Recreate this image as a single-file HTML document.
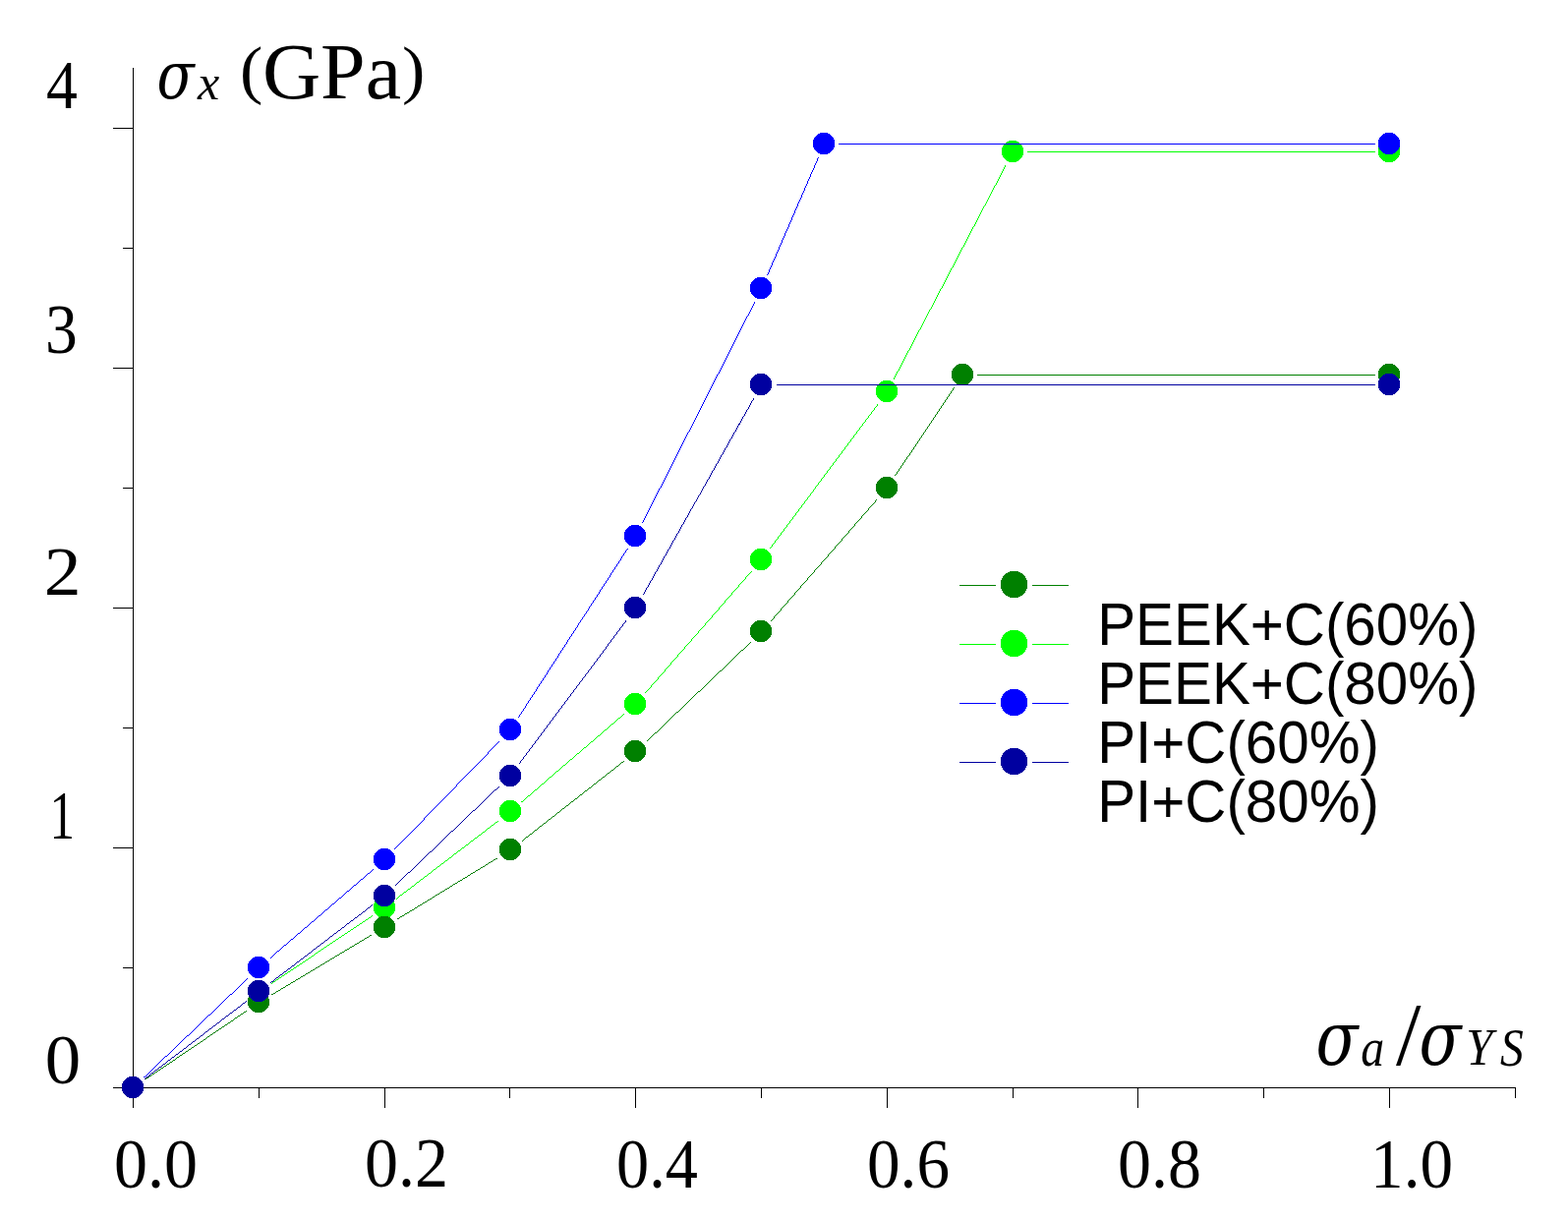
<!DOCTYPE html><html><head><meta charset="utf-8"><title>chart</title><style>html,body{margin:0;padding:0;background:#fff;overflow:hidden;}svg{display:block}.serif{font-family:"Liberation Serif",serif}.sans{font-family:"Liberation Sans",sans-serif}</style></head><body>
<svg width="1595" height="1242" viewBox="0 0 1595 1242">
<rect width="1595" height="1242" fill="#fff"/>
<path d="M135.5 69V1127 M115 1106.5H1542 M115 1106.5H135 M115 862.5H135 M115 618.5H135 M115 374.5H135 M115 130.5H135 M125 984.5H135 M125 740.5H135 M125 496.5H135 M125 252.5H135 M135.5 1106V1127 M263.5 1106V1117 M391.5 1106V1127 M518.5 1106V1117 M646.5 1106V1127 M774.5 1106V1117 M902.5 1106V1127 M1030.5 1106V1117 M1157.5 1106V1127 M1285.5 1106V1117 M1413.5 1106V1127 M1541.5 1106V1117" stroke="#000" stroke-width="1" fill="none" shape-rendering="crispEdges"/>
<path d="M147.42 1096.90 L251.38 1017.50 L251.38 1018.50 L147.42 1097.90Z M275.77 1000.07 L378.63 931.33 L378.63 932.33 L275.77 1001.07Z M403.02 913.90 L506.98 834.50 L506.98 835.50 L403.02 914.90Z M530.28 815.62 L635.32 725.38 L635.32 726.38 L530.28 816.62Z M656.06 704.80 L764.14 581.00 L765.14 581.00 L657.06 704.80Z M782.99 557.69 L892.81 410.91 L893.81 410.91 L783.99 557.69Z M908.76 385.61 L1022.64 168.19 L1023.64 168.19 L909.76 385.61Z M1045.10 154.40 L1398.50 154.40 L1398.50 155.40 L1045.10 155.40Z" fill="#00ff00" shape-rendering="crispEdges"/>
<circle cx="135" cy="1106" r="11.2" fill="#00ff00" shape-rendering="crispEdges"/>
<circle cx="263" cy="1008" r="11.2" fill="#00ff00" shape-rendering="crispEdges"/>
<circle cx="391" cy="923" r="11.2" fill="#00ff00" shape-rendering="crispEdges"/>
<circle cx="519" cy="825" r="11.2" fill="#00ff00" shape-rendering="crispEdges"/>
<circle cx="646" cy="716" r="11.2" fill="#00ff00" shape-rendering="crispEdges"/>
<circle cx="774" cy="569" r="11.2" fill="#00ff00" shape-rendering="crispEdges"/>
<circle cx="902" cy="398" r="11.2" fill="#00ff00" shape-rendering="crispEdges"/>
<circle cx="1030" cy="154" r="11.2" fill="#00ff00" shape-rendering="crispEdges"/>
<circle cx="1413" cy="154" r="11.2" fill="#00ff00" shape-rendering="crispEdges"/>
<path d="M147.92 1097.58 L250.88 1027.80 L250.88 1028.80 L147.92 1098.58Z M276.15 1011.65 L378.25 950.25 L378.25 951.25 L276.15 1012.65Z M403.90 934.70 L506.10 872.26 L506.10 873.26 L403.90 935.70Z M530.71 855.19 L634.89 773.65 L634.89 774.65 L530.71 856.19Z M657.55 754.04 L763.65 652.76 L763.65 653.76 L657.55 755.04Z M783.86 631.60 L891.94 507.80 L892.94 507.80 L784.86 631.60Z M910.14 484.03 L970.14 394.29 L971.14 394.29 L911.14 484.03Z M993.98 381.32 L1398.50 381.32 L1398.50 382.32 L993.98 382.32Z" fill="#008000" shape-rendering="crispEdges"/>
<circle cx="135" cy="1106" r="11.2" fill="#008000" shape-rendering="crispEdges"/>
<circle cx="263" cy="1019" r="11.2" fill="#008000" shape-rendering="crispEdges"/>
<circle cx="391" cy="943" r="11.2" fill="#008000" shape-rendering="crispEdges"/>
<circle cx="519" cy="864" r="11.2" fill="#008000" shape-rendering="crispEdges"/>
<circle cx="646" cy="764" r="11.2" fill="#008000" shape-rendering="crispEdges"/>
<circle cx="774" cy="642" r="11.2" fill="#008000" shape-rendering="crispEdges"/>
<circle cx="902" cy="496" r="11.2" fill="#008000" shape-rendering="crispEdges"/>
<circle cx="979" cy="381" r="11.2" fill="#008000" shape-rendering="crispEdges"/>
<circle cx="1413" cy="381" r="11.2" fill="#008000" shape-rendering="crispEdges"/>
<path d="M146.35 1095.64 L252.45 994.36 L252.45 995.36 L146.35 1096.64Z M274.68 974.22 L379.72 883.98 L379.72 884.98 L274.68 975.22Z M401.04 863.93 L507.96 753.71 L508.96 753.71 L402.04 863.93Z M526.54 730.34 L638.06 557.90 L639.06 557.90 L527.54 730.34Z M653.00 531.93 L767.20 307.35 L768.20 307.35 L654.00 531.93Z M779.97 280.22 L831.93 160.37 L832.93 160.37 L780.97 280.22Z M853.40 146.10 L1398.50 146.10 L1398.50 147.10 L853.40 147.10Z" fill="#0000ff" shape-rendering="crispEdges"/>
<circle cx="135" cy="1106" r="11.2" fill="#0000ff" shape-rendering="crispEdges"/>
<circle cx="263" cy="984" r="11.2" fill="#0000ff" shape-rendering="crispEdges"/>
<circle cx="391" cy="874" r="11.2" fill="#0000ff" shape-rendering="crispEdges"/>
<circle cx="519" cy="742" r="11.2" fill="#0000ff" shape-rendering="crispEdges"/>
<circle cx="646" cy="545" r="11.2" fill="#0000ff" shape-rendering="crispEdges"/>
<circle cx="774" cy="293" r="11.2" fill="#0000ff" shape-rendering="crispEdges"/>
<circle cx="838" cy="146" r="11.2" fill="#0000ff" shape-rendering="crispEdges"/>
<circle cx="1413" cy="146" r="11.2" fill="#0000ff" shape-rendering="crispEdges"/>
<path d="M147.42 1096.90 L251.38 1017.50 L251.38 1018.50 L147.42 1097.90Z M275.22 999.30 L379.18 919.90 L379.18 920.90 L275.22 1000.30Z M401.95 900.44 L508.05 799.16 L508.05 800.16 L401.95 901.44Z M527.39 777.29 L637.21 630.51 L638.21 630.51 L528.39 777.29Z M653.56 605.43 L766.64 404.65 L767.64 404.65 L654.56 605.43Z M789.50 391.08 L1398.50 391.08 L1398.50 392.08 L789.50 392.08Z" fill="#0000a0" shape-rendering="crispEdges"/>
<circle cx="135" cy="1106" r="11.2" fill="#0000a0" shape-rendering="crispEdges"/>
<circle cx="263" cy="1008" r="11.2" fill="#0000a0" shape-rendering="crispEdges"/>
<circle cx="391" cy="911" r="11.2" fill="#0000a0" shape-rendering="crispEdges"/>
<circle cx="519" cy="789" r="11.2" fill="#0000a0" shape-rendering="crispEdges"/>
<circle cx="646" cy="618" r="11.2" fill="#0000a0" shape-rendering="crispEdges"/>
<circle cx="774" cy="391" r="11.2" fill="#0000a0" shape-rendering="crispEdges"/>
<circle cx="1413" cy="391" r="11.2" fill="#0000a0" shape-rendering="crispEdges"/>
<path d="M976 595.5H1013M1050 595.5H1087" stroke="#008000" stroke-width="1" shape-rendering="crispEdges"/>
<circle cx="1031.5" cy="594.5" r="13.7" fill="#008000" shape-rendering="crispEdges"/>
<path d="M976 655.5H1013M1050 655.5H1087" stroke="#00ff00" stroke-width="1" shape-rendering="crispEdges"/>
<circle cx="1031.5" cy="654.5" r="13.7" fill="#00ff00" shape-rendering="crispEdges"/>
<path d="M976 715.5H1013M1050 715.5H1087" stroke="#0000ff" stroke-width="1" shape-rendering="crispEdges"/>
<circle cx="1031.5" cy="714.5" r="13.7" fill="#0000ff" shape-rendering="crispEdges"/>
<path d="M976 775.5H1013M1050 775.5H1087" stroke="#0000a0" stroke-width="1" shape-rendering="crispEdges"/>
<circle cx="1031.5" cy="774.5" r="13.7" fill="#0000a0" shape-rendering="crispEdges"/>
<text font-family="Liberation Sans, sans-serif" transform="translate(1116.2,656) scale(0.9641,1)" font-size="60.5">PEEK+C(60%)</text>
<text font-family="Liberation Sans, sans-serif" transform="translate(1116.2,716) scale(0.9641,1)" font-size="60.5">PEEK+C(80%)</text>
<text font-family="Liberation Sans, sans-serif" transform="translate(1116.2,776) scale(0.9641,1)" font-size="60.5">PI+C(60%)</text>
<text font-family="Liberation Sans, sans-serif" transform="translate(1116.2,836) scale(0.9641,1)" font-size="60.5">PI+C(80%)</text>
<text transform="translate(47.06,110.00) scale(0.9162,1)" font-family='"Liberation Serif",serif' font-size="69.58">4</text>
<text transform="translate(46.11,359.00) scale(0.9027,1)" font-family='"Liberation Serif",serif' font-size="72.64">3</text>
<text transform="translate(44.67,605.00) scale(1.0859,1)" font-family='"Liberation Serif",serif' font-size="69.58">2</text>
<text transform="translate(50.50,853.00) scale(0.7330,1)" font-family='"Liberation Serif",serif' font-size="69.58">1</text>
<text transform="translate(45.79,1102.00) scale(1.0022,1)" font-family='"Liberation Serif",serif' font-size="72.70">0</text>
<text transform="translate(116.00,1208.00) scale(0.9362,1)" font-family='"Liberation Serif",serif' font-size="72.64">0.0</text>
<text transform="translate(371.00,1207.00) scale(0.9362,1)" font-family='"Liberation Serif",serif' font-size="72.64">0.2</text>
<text transform="translate(627.07,1208.00) scale(0.9123,1)" font-family='"Liberation Serif",serif' font-size="72.70">0.4</text>
<text transform="translate(882.04,1208.00) scale(0.9237,1)" font-family='"Liberation Serif",serif' font-size="72.70">0.6</text>
<text transform="translate(1137.00,1208.00) scale(0.9354,1)" font-family='"Liberation Serif",serif' font-size="72.70">0.8</text>
<text transform="translate(1394.08,1208.00) scale(0.9239,1)" font-family='"Liberation Serif",serif' font-size="72.64">1.0</text>
<text transform="translate(159.53,100.00) scale(0.8222,1)" font-family='"DejaVu Serif",serif' font-style="italic" font-size="68.00">σ</text>
<text transform="translate(201.00,101.00) scale(1.0000,1)" font-family='"Liberation Serif",serif' font-style="italic" font-size="50.00">x</text>
<text transform="translate(244.00,92.95) scale(1.0678,1)" font-family='"Liberation Serif",serif' font-size="65.56">(</text>
<text transform="translate(266.89,99.98) scale(1.0179,1)" font-family='"Liberation Serif",serif' font-size="80.55">GPa</text>
<text transform="translate(409.00,92.95) scale(1.0678,1)" font-family='"Liberation Serif",serif' font-size="65.56">)</text>
<text transform="translate(1338.58,1083.02) scale(0.8274,1)" font-family='"DejaVu Serif",serif' font-style="italic" font-size="76.14">σ</text>
<text transform="translate(1384.26,1084.00) scale(0.8696,1)" font-family='"Liberation Serif",serif' font-style="italic" font-size="55.00">a</text>
<text transform="translate(1420.00,1082.97) scale(1.0075,1)" font-family='"Liberation Serif",serif' font-size="90.98">/</text>
<text transform="translate(1443.58,1083.02) scale(0.8274,1)" font-family='"DejaVu Serif",serif' font-style="italic" font-size="76.14">σ</text>
<text transform="translate(1491.28,1083.00) scale(0.9321,1)" font-family='"Liberation Serif",serif' font-style="italic" font-size="52.50">Y</text>
<text transform="translate(1526.12,1084.00) scale(0.8800,1)" font-family='"Liberation Serif",serif' font-style="italic" font-size="54.00">S</text>
</svg></body></html>
